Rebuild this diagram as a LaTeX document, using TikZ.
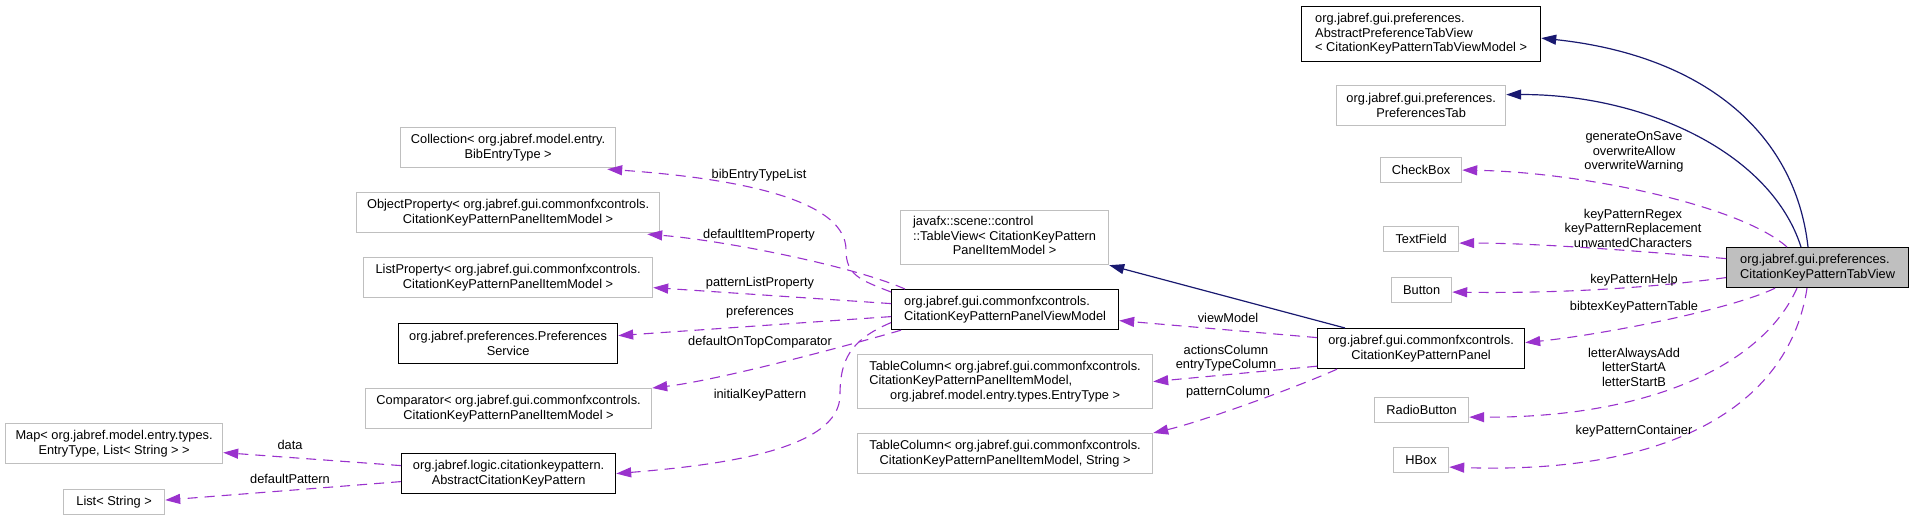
\documentclass[tikz,border=0pt]{standalone}
\usepackage{fontspec}
\setmainfont{Liberation Sans}
\usetikzlibrary{arrows.meta,calc}

\definecolor{grey75}{HTML}{BFBFBF}
\definecolor{midnight}{HTML}{191970}
\definecolor{orchid}{HTML}{9A32CD}

\begin{document}
\begin{tikzpicture}[x=1pt, y=-1pt, font=\fontsize{12.8}{14.5}\selectfont,
  cls/.style={draw=grey75, fill=white, line width=1.2pt, inner sep=0pt, anchor=north west, align=center},
  clsdoc/.style={cls, draw=black},
  clscur/.style={cls, draw=black, fill=grey75},
  inh/.style={draw=midnight, line width=1.2pt, -{Triangle[length=15pt,width=10pt]}},
  mem/.style={draw=orchid, line width=1.1pt, dash pattern=on 10pt off 7pt, -{Triangle[length=15pt,width=10pt]}},
  lbl/.style={inner sep=0pt, align=center}]
  \useasboundingbox (0,0) rectangle (1913,521);

  % classes
  \node[clsdoc, align=left, minimum width=239pt, minimum height=55pt] (apt) at (1301,6)
    {org.jabref.gui.preferences.\\AbstractPreferenceTabView\\< CitationKeyPatternTabViewModel >};
  \node[cls, minimum width=169pt, minimum height=40pt] (ptab) at (1336,85) {org.jabref.gui.preferences.\\PreferencesTab};
  \node[cls, minimum width=81pt, minimum height=25pt] (chk) at (1380,157) {CheckBox};
  \node[cls, minimum width=75pt, minimum height=25pt] (tf) at (1383,226) {TextField};
  \node[cls, minimum width=60pt, minimum height=25pt] (btn) at (1391,277) {Button};
  \node[clscur, align=left, minimum width=182pt, minimum height=40pt] (tv) at (1726,247)
    {org.jabref.gui.preferences.\\CitationKeyPatternTabView};
  \node[clsdoc, minimum width=207pt, minimum height=40pt] (pnl) at (1317,328) {org.jabref.gui.commonfxcontrols.\\CitationKeyPatternPanel};
  \node[cls, minimum width=94pt, minimum height=25pt] (rb) at (1374,397) {RadioButton};
  \node[cls, minimum width=55pt, minimum height=25pt] (hb) at (1393,447) {HBox};

  \node[cls, minimum width=208pt, minimum height=54pt] (tview) at (900,210)
    {\begin{tabular}{@{}l@{}}javafx::scene::control\\::TableView< CitationKeyPattern\\\multicolumn{1}{@{}c@{}}{PanelItemModel >}\end{tabular}};
  \node[clsdoc, align=left, minimum width=227pt, minimum height=40pt] (vm) at (891,289)
    {org.jabref.gui.commonfxcontrols.\\CitationKeyPatternPanelViewModel};
  \node[cls, minimum width=295pt, minimum height=54pt] (tc1) at (857,354)
    {\begin{tabular}{@{}l@{}}TableColumn< org.jabref.gui.commonfxcontrols.\\CitationKeyPatternPanelItemModel,\\\multicolumn{1}{@{}c@{}}{org.jabref.model.entry.types.EntryType >}\end{tabular}};
  \node[cls, minimum width=295pt, minimum height=40pt] (tc2) at (857,433)
    {TableColumn< org.jabref.gui.commonfxcontrols.\\CitationKeyPatternPanelItemModel, String >};

  \node[cls, minimum width=215pt, minimum height=40pt] (coll) at (400,127) {Collection< org.jabref.model.entry.\\BibEntryType >};
  \node[cls, minimum width=303pt, minimum height=40pt] (objp) at (356,192)
    {ObjectProperty< org.jabref.gui.commonfxcontrols.\\CitationKeyPatternPanelItemModel >};
  \node[cls, minimum width=289pt, minimum height=40pt] (listp) at (363,257)
    {ListProperty< org.jabref.gui.commonfxcontrols.\\CitationKeyPatternPanelItemModel >};
  \node[clsdoc, minimum width=219pt, minimum height=40pt] (prefs) at (398,323) {org.jabref.preferences.Preferences\\Service};
  \node[cls, minimum width=286pt, minimum height=40pt] (comp) at (365,388)
    {Comparator< org.jabref.gui.commonfxcontrols.\\CitationKeyPatternPanelItemModel >};
  \node[cls, minimum width=217pt, minimum height=40pt] (map) at (5,423) {Map< org.jabref.model.entry.types.\\EntryType, List< String > >};
  \node[clsdoc, minimum width=214pt, minimum height=40pt] (akp) at (401,453) {org.jabref.logic.citationkeypattern.\\AbstractCitationKeyPattern};
  \node[cls, minimum width=101pt, minimum height=25pt] (lst) at (63,489) {List< String >};

  % inheritance
  \draw[inh] ($(tv.north west)+(82,0)$) .. controls (1795,130) and (1700,55) .. ($(apt.east)+(0,4)$);
  \draw[inh] ($(tv.north west)+(75,0)$) .. controls (1770,150) and (1640,94) .. ($(ptab.east)+(0,-11)$);
  \draw[inh] ($(pnl.north west)+(28,0)$) -- (tview.south east);

  % members
  \draw[mem] ($(tv.north west)+(61,0)$) .. controls (1740,205) and (1580,172) .. (chk.east);
  \draw[mem] ($(tv.west)+(0,-9)$) .. controls (1650,252) and (1540,243) .. ($(tf.east)+(0,4)$);
  \draw[mem] ($(tv.west)+(0,10)$) .. controls (1620,292) and (1520,293) .. ($(btn.east)+(0,2)$);
  \draw[mem] ($(tv.south west)+(49,0)$) .. controls (1730,310) and (1600,335) .. ($(pnl.east)+(0,-6)$);
  \draw[mem] ($(tv.south west)+(71,0)$) .. controls (1760,370) and (1640,418) .. ($(rb.east)+(0,7)$);
  \draw[mem] ($(tv.south west)+(81,0)$) .. controls (1790,400) and (1680,475) .. ($(hb.east)+(0,7)$);

  \draw[mem] ($(pnl.west)+(0,-11)$) -- ($(vm.east)+(0,11)$);
  \draw[mem] ($(pnl.south west)+(0,-3)$) -- (tc1.east);
  \draw[mem] ($(pnl.south west)+(20,0)$) .. controls (1290,390) and (1200,422) .. (tc2.north east);

  \draw[mem] ($(vm.north west)+(0,3)$) .. controls (860,280) and (846,275) .. (846,250)
    .. controls (846,205) and (760,180) .. ($(coll.south east)+(-9,1)$);
  \draw[mem] ($(vm.north west)+(14,0)$) .. controls (850,265) and (720,240) .. ($(objp.south east)+(-13,1)$);
  \draw[mem] ($(vm.west)+(0,-6)$) -- ($(listp.east)+(0,10)$);
  \draw[mem] ($(vm.west)+(0,7)$) -- ($(prefs.east)+(0,-8)$);
  \draw[mem] ($(vm.south west)+(10,0)$) .. controls (850,345) and (720,380) .. (comp.north east);
  \draw[mem] ($(vm.west)+(0,13)$) .. controls (850,340) and (840,360) .. (840,395)
    .. controls (840,450) and (720,465) .. (akp.east);

  \draw[mem] ($(akp.west)+(0,-8)$) -- ($(map.east)+(0,9)$);
  \draw[mem] ($(akp.west)+(0,8)$) -- ($(lst.east)+(0,-2)$);

  % labels
  \node[lbl] (lblsave) at (1634,152) {generateOnSave\\overwriteAllow\\overwriteWarning};
  \node[lbl] (lblregex) at (1633,228) {keyPatternRegex\\keyPatternReplacement\\unwantedCharacters};
  \node[lbl] (lblhelp) at (1634,280) {keyPatternHelp};
  \node[lbl] (lbltable) at (1634,307) {bibtexKeyPatternTable};
  \node[lbl] (lblletter) at (1634,367) {letterAlwaysAdd\\letterStartA\\letterStartB};
  \node[lbl] (lblcont) at (1634,431) {keyPatternContainer};
  \node[lbl] (lblvm) at (1228,318) {viewModel};
  \node[lbl] (lblcols) at (1226,358) {actionsColumn\\entryTypeColumn};
  \node[lbl] (lblpat) at (1228,392) {patternColumn};
  \node[lbl] (lblbib) at (759,175) {bibEntryTypeList};
  \node[lbl] (lblitem) at (759,235) {defaultItemProperty};
  \node[lbl] (lbllist) at (760,283) {patternListProperty};
  \node[lbl] (lblprefs) at (760,312) {preferences};
  \node[lbl] (lblcomp) at (760,342) {defaultOnTopComparator};
  \node[lbl] (lblinit) at (760,395) {initialKeyPattern};
  \node[lbl] (lbldata) at (290,445) {data};
  \node[lbl] (lbldef) at (290,479) {defaultPattern};
\end{tikzpicture}
\end{document}
